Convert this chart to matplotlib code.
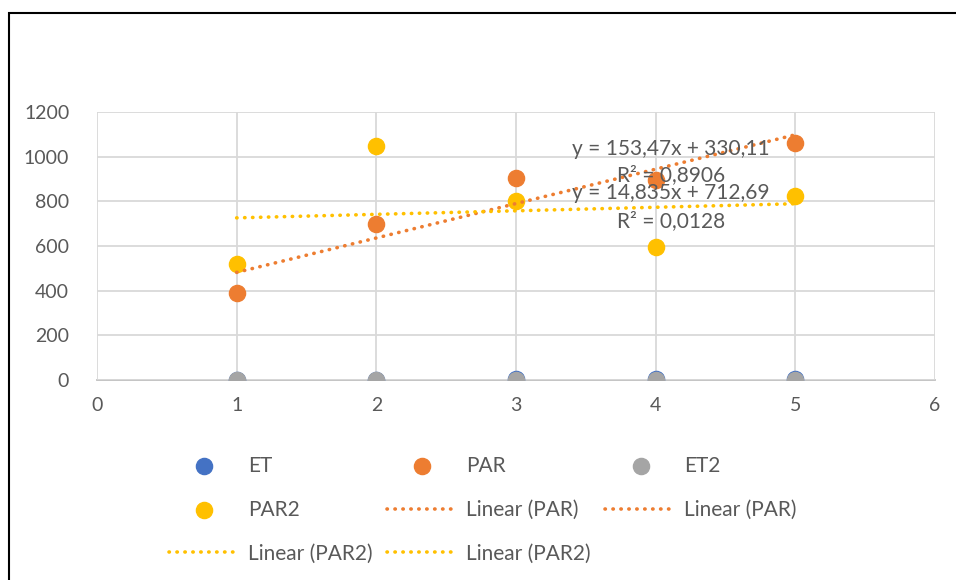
import matplotlib.pyplot as plt
import matplotlib.patches as mpatches
import numpy as np

plt.rcParams['font.family'] = ['Lato', 'DejaVu Sans']

x = [1, 2, 3, 4, 5]
et = [2, 2, 3, 3, 5]
par = [390, 698, 905, 895, 1062]
et2 = [1, 1, 1, 1, 1]
par2 = [519, 1048, 801, 596, 824]

c_et = '#4472C4'
c_par = '#ED7D31'
c_et2 = '#A5A5A5'
c_par2 = '#FFC000'
txt = '#595959'
grid = '#D9D9D9'

fig = plt.figure(figsize=(9.56, 5.8), dpi=100)
ax = fig.add_axes([97 / 956, 1 - 380 / 580, (935 - 97) / 956, (380 - 112) / 580])

ms = 135
h_et = ax.scatter(x, et, s=ms, color=c_et, zorder=3, label='ET')
h_par = ax.scatter(x, par, s=ms, color=c_par, zorder=3, label='PAR')
h_et2 = ax.scatter(x, et2, s=ms, color=c_et2, zorder=3, label='ET2')
h_par2 = ax.scatter(x, par2, s=ms, color=c_par2, zorder=3, label='PAR2')

# trendlines
xs = np.array([1, 5])
p1 = np.polyfit(x, par, 1)
p2 = np.polyfit(x, par2, 1)
l_par, = ax.plot(xs, np.polyval(p1, xs), color=c_par, lw=2.6,
                 dashes=(0.1, 2.1), dash_capstyle='round', zorder=4)
l_par2, = ax.plot(xs, np.polyval(p2, xs), color=c_par2, lw=2.6,
                  dashes=(0.1, 2.1), dash_capstyle='round', zorder=4)

fs = 15
tx = 4.11
ax.text(tx, 1034, 'y = 153,47x + 330,11', color=txt, fontsize=fs, ha='center', va='center', zorder=5)
ax.text(tx, 918, 'R² = 0,8906', color=txt, fontsize=fs, ha='center', va='center', zorder=5)
ax.text(tx, 837, 'y = 14,835x + 712,69', color=txt, fontsize=fs, ha='center', va='center', zorder=5)
ax.text(tx, 712, 'R² = 0,0128', color=txt, fontsize=fs, ha='center', va='center', zorder=5)

ax.set_xlim(0, 6)
ax.set_ylim(0, 1200)
ax.set_xticks(range(0, 7))
ax.set_yticks(range(0, 1201, 200))
ax.grid(True, color=grid, lw=1.3, zorder=0)
for s in ['top', 'right', 'left']:
    ax.spines[s].set_visible(False)
ax.spines['bottom'].set_color('#BFBFBF')
ax.spines['bottom'].set_linewidth(1.3)
ax.spines['bottom'].set_zorder(1)
ax.tick_params(length=0, labelsize=14, colors=txt, pad=12)
ax.tick_params(axis='y', pad=20)

handles = [h_et, h_par2, l_par2, h_par, l_par, l_par2, h_et2, l_par]
labels = ['ET', 'PAR2', 'Linear (PAR2)', 'PAR', 'Linear (PAR)', 'Linear (PAR2)', 'ET2', 'Linear (PAR)']
fig.legend(handles, labels, ncol=3, loc='center', bbox_to_anchor=(0.505, 0.121),
           frameon=False, fontsize=15, labelcolor=txt, handlelength=3.4,
           handletextpad=0.4, columnspacing=0.7, labelspacing=1.15, scatterpoints=1)

fig.patches.append(mpatches.Rectangle((9 / 956, -0.1), 1.2, 1 - 13.5 / 580 + 0.1,
                                      transform=fig.transFigure, fill=False,
                                      edgecolor='black', lw=1.5))

fig.savefig('out.png', dpi=100)
